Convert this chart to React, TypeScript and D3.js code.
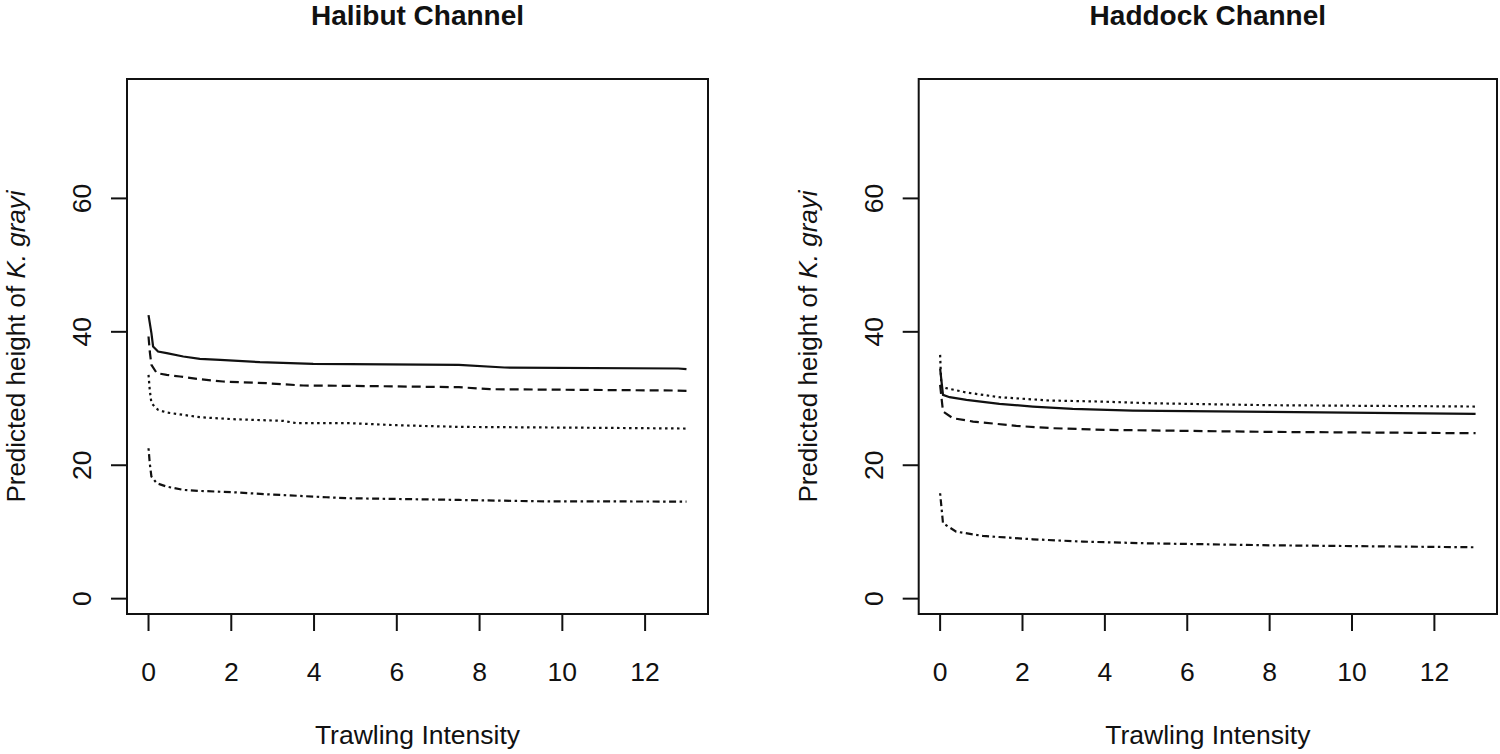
import * as d3 from "d3"

type Pt = [number, number]

// Halibut Channel predicted heights (x = trawling intensity)
const halibutSolid: Pt[] = [
  [0, 42.5], [0.07, 39.8], [0.11, 37.8], [0.23, 37.05], [0.44, 36.8], [0.84, 36.3],
  [1.24, 35.95], [1.73, 35.8], [2.69, 35.45], [3.98, 35.2], [4.87, 35.15], [7.5, 35.05],
  [8.6, 34.65], [12.8, 34.5], [13, 34.4],
]
const halibutDashed: Pt[] = [
  [0, 39.3], [0.03, 37.05], [0.07, 35.05], [0.2, 33.8], [0.44, 33.55], [0.76, 33.3],
  [1.24, 32.9], [1.8, 32.55], [2.85, 32.3], [3.74, 31.95], [4.87, 31.9], [7.5, 31.7],
  [8.25, 31.4], [12.7, 31.2], [13, 31.15],
]
const halibutDotted: Pt[] = [
  [0, 33.55], [0.03, 31.3], [0.07, 29.3], [0.23, 28.3], [0.44, 27.9], [0.84, 27.55],
  [1.24, 27.2], [2.05, 26.9], [3.26, 26.65], [3.58, 26.3], [4.87, 26.3], [6, 26.0],
  [7.5, 25.75], [11.1, 25.6], [13, 25.5],
]
const halibutDotDash: Pt[] = [
  [0, 22.55], [0.03, 20.3], [0.07, 18.3], [0.2, 17.3], [0.44, 16.8], [0.84, 16.3],
  [1.24, 16.15], [2.05, 15.95], [2.85, 15.65], [4.3, 15.2], [4.87, 15.05], [7.5, 14.8],
  [9.4, 14.6], [13, 14.55],
]

// Haddock Channel predicted heights
const haddockSolid: Pt[] = [
  [0, 34.5], [0.07, 30.55], [0.23, 30.2], [0.64, 29.8], [1.44, 29.2], [2.25, 28.8],
  [3.22, 28.45], [4.68, 28.2], [8, 28.0], [13, 27.7],
]
const haddockDashed: Pt[] = [
  [0, 32.05], [0.07, 28.05], [0.31, 27.05], [0.8, 26.55], [1.85, 25.9], [2.74, 25.55],
  [4.04, 25.3], [8, 25.0], [13, 24.8],
]
const haddockDotted: Pt[] = [
  [0, 36.55], [0.03, 31.8], [0.15, 31.55], [0.64, 30.9], [1.44, 30.2], [2.66, 29.7],
  [3.87, 29.55], [5.08, 29.3], [8, 29.0], [13, 28.8],
]
const haddockDotDash: Pt[] = [
  [0, 15.8], [0.07, 11.3], [0.39, 10.05], [1.04, 9.4], [2.25, 8.9], [3.47, 8.55],
  [5, 8.3], [8, 8.0], [13, 7.7],
]

const xTicks = [0, 2, 4, 6, 8, 10, 12]
const yTicks = [0, 20, 40, 60]

const dashes = {
  solid: undefined,
  dashed: "9,5",
  dotted: "2.5,3.5",
  dotdash: "2.5,3.5,7,3.5",
}

interface Panel {
  title: string
  left: number
  right: number
  series: { pts: Pt[]; dash?: string }[]
}

const panels: Panel[] = [
  {
    title: "Halibut Channel",
    left: 127,
    right: 708,
    series: [
      { pts: halibutSolid, dash: dashes.solid },
      { pts: halibutDashed, dash: dashes.dashed },
      { pts: halibutDotted, dash: dashes.dotted },
      { pts: halibutDotDash, dash: dashes.dotdash },
    ],
  },
  {
    title: "Haddock Channel",
    left: 918.7,
    right: 1497,
    series: [
      { pts: haddockSolid, dash: dashes.solid },
      { pts: haddockDashed, dash: dashes.dashed },
      { pts: haddockDotted, dash: dashes.dotted },
      { pts: haddockDotDash, dash: dashes.dotdash },
    ],
  },
]

const top = 79
const bottom = 614
const font = "Liberation Sans, Arial, sans-serif"
const ink = "#111"

function PlotPanel({ p }: { p: Panel }) {
  const x = d3.scaleLinear().domain([-0.52, 13.52]).range([p.left, p.right])
  const y = d3.scaleLinear().domain([-2.3, 77.9]).range([bottom, top])
  const line = d3
    .line<Pt>()
    .x((d) => x(d[0]))
    .y((d) => y(d[1]))
  const cx = (p.left + p.right) / 2
  const cy = (top + bottom) / 2
  const labX = p.left - 102
  const tickLabX = p.left - 36

  return (
    <g>
      <text x={cx} y={25} textAnchor="middle" fontFamily={font} fontWeight="bold" fontSize={28} fill={ink}>
        {p.title}
      </text>
      <rect x={p.left} y={top} width={p.right - p.left} height={bottom - top} fill="none" stroke={ink} strokeWidth={2} />
      {xTicks.map((t) => (
        <g key={`x${t}`}>
          <line x1={x(t)} x2={x(t)} y1={bottom} y2={bottom + 17} stroke={ink} strokeWidth={2} />
          <text x={x(t)} y={681} textAnchor="middle" fontFamily={font} fontSize={26.5} fill={ink}>
            {t}
          </text>
        </g>
      ))}
      {yTicks.map((t) => (
        <g key={`y${t}`}>
          <line x1={p.left - 16} x2={p.left} y1={y(t)} y2={y(t)} stroke={ink} strokeWidth={2} />
          <text
            transform={`translate(${tickLabX},${y(t)}) rotate(-90)`}
            textAnchor="middle"
            fontFamily={font}
            fontSize={26.5}
            fill={ink}
          >
            {t}
          </text>
        </g>
      ))}
      <text x={cx} y={744} textAnchor="middle" fontFamily={font} fontSize={26.5} fill={ink}>
        Trawling Intensity
      </text>
      <text
        transform={`translate(${labX},${cy}) rotate(-90)`}
        textAnchor="middle"
        fontFamily={font}
        fontSize={26}
        fill={ink}
      >
        Predicted height of <tspan fontStyle="italic">K. grayi</tspan>
      </text>
      {p.series.map((s, i) => (
        <path
          key={i}
          d={line(s.pts) ?? ""}
          fill="none"
          stroke={ink}
          strokeWidth={2.2}
          strokeDasharray={s.dash}
        />
      ))}
    </g>
  )
}

export default function App() {
  return (
    <svg
      width={1500}
      height={754}
      style={{ position: "absolute", left: 0, top: 0, background: "#fff" }}
    >
      <rect width={1500} height={754} fill="#fff" />
      {panels.map((p) => (
        <PlotPanel key={p.title} p={p} />
      ))}
    </svg>
  )
}
